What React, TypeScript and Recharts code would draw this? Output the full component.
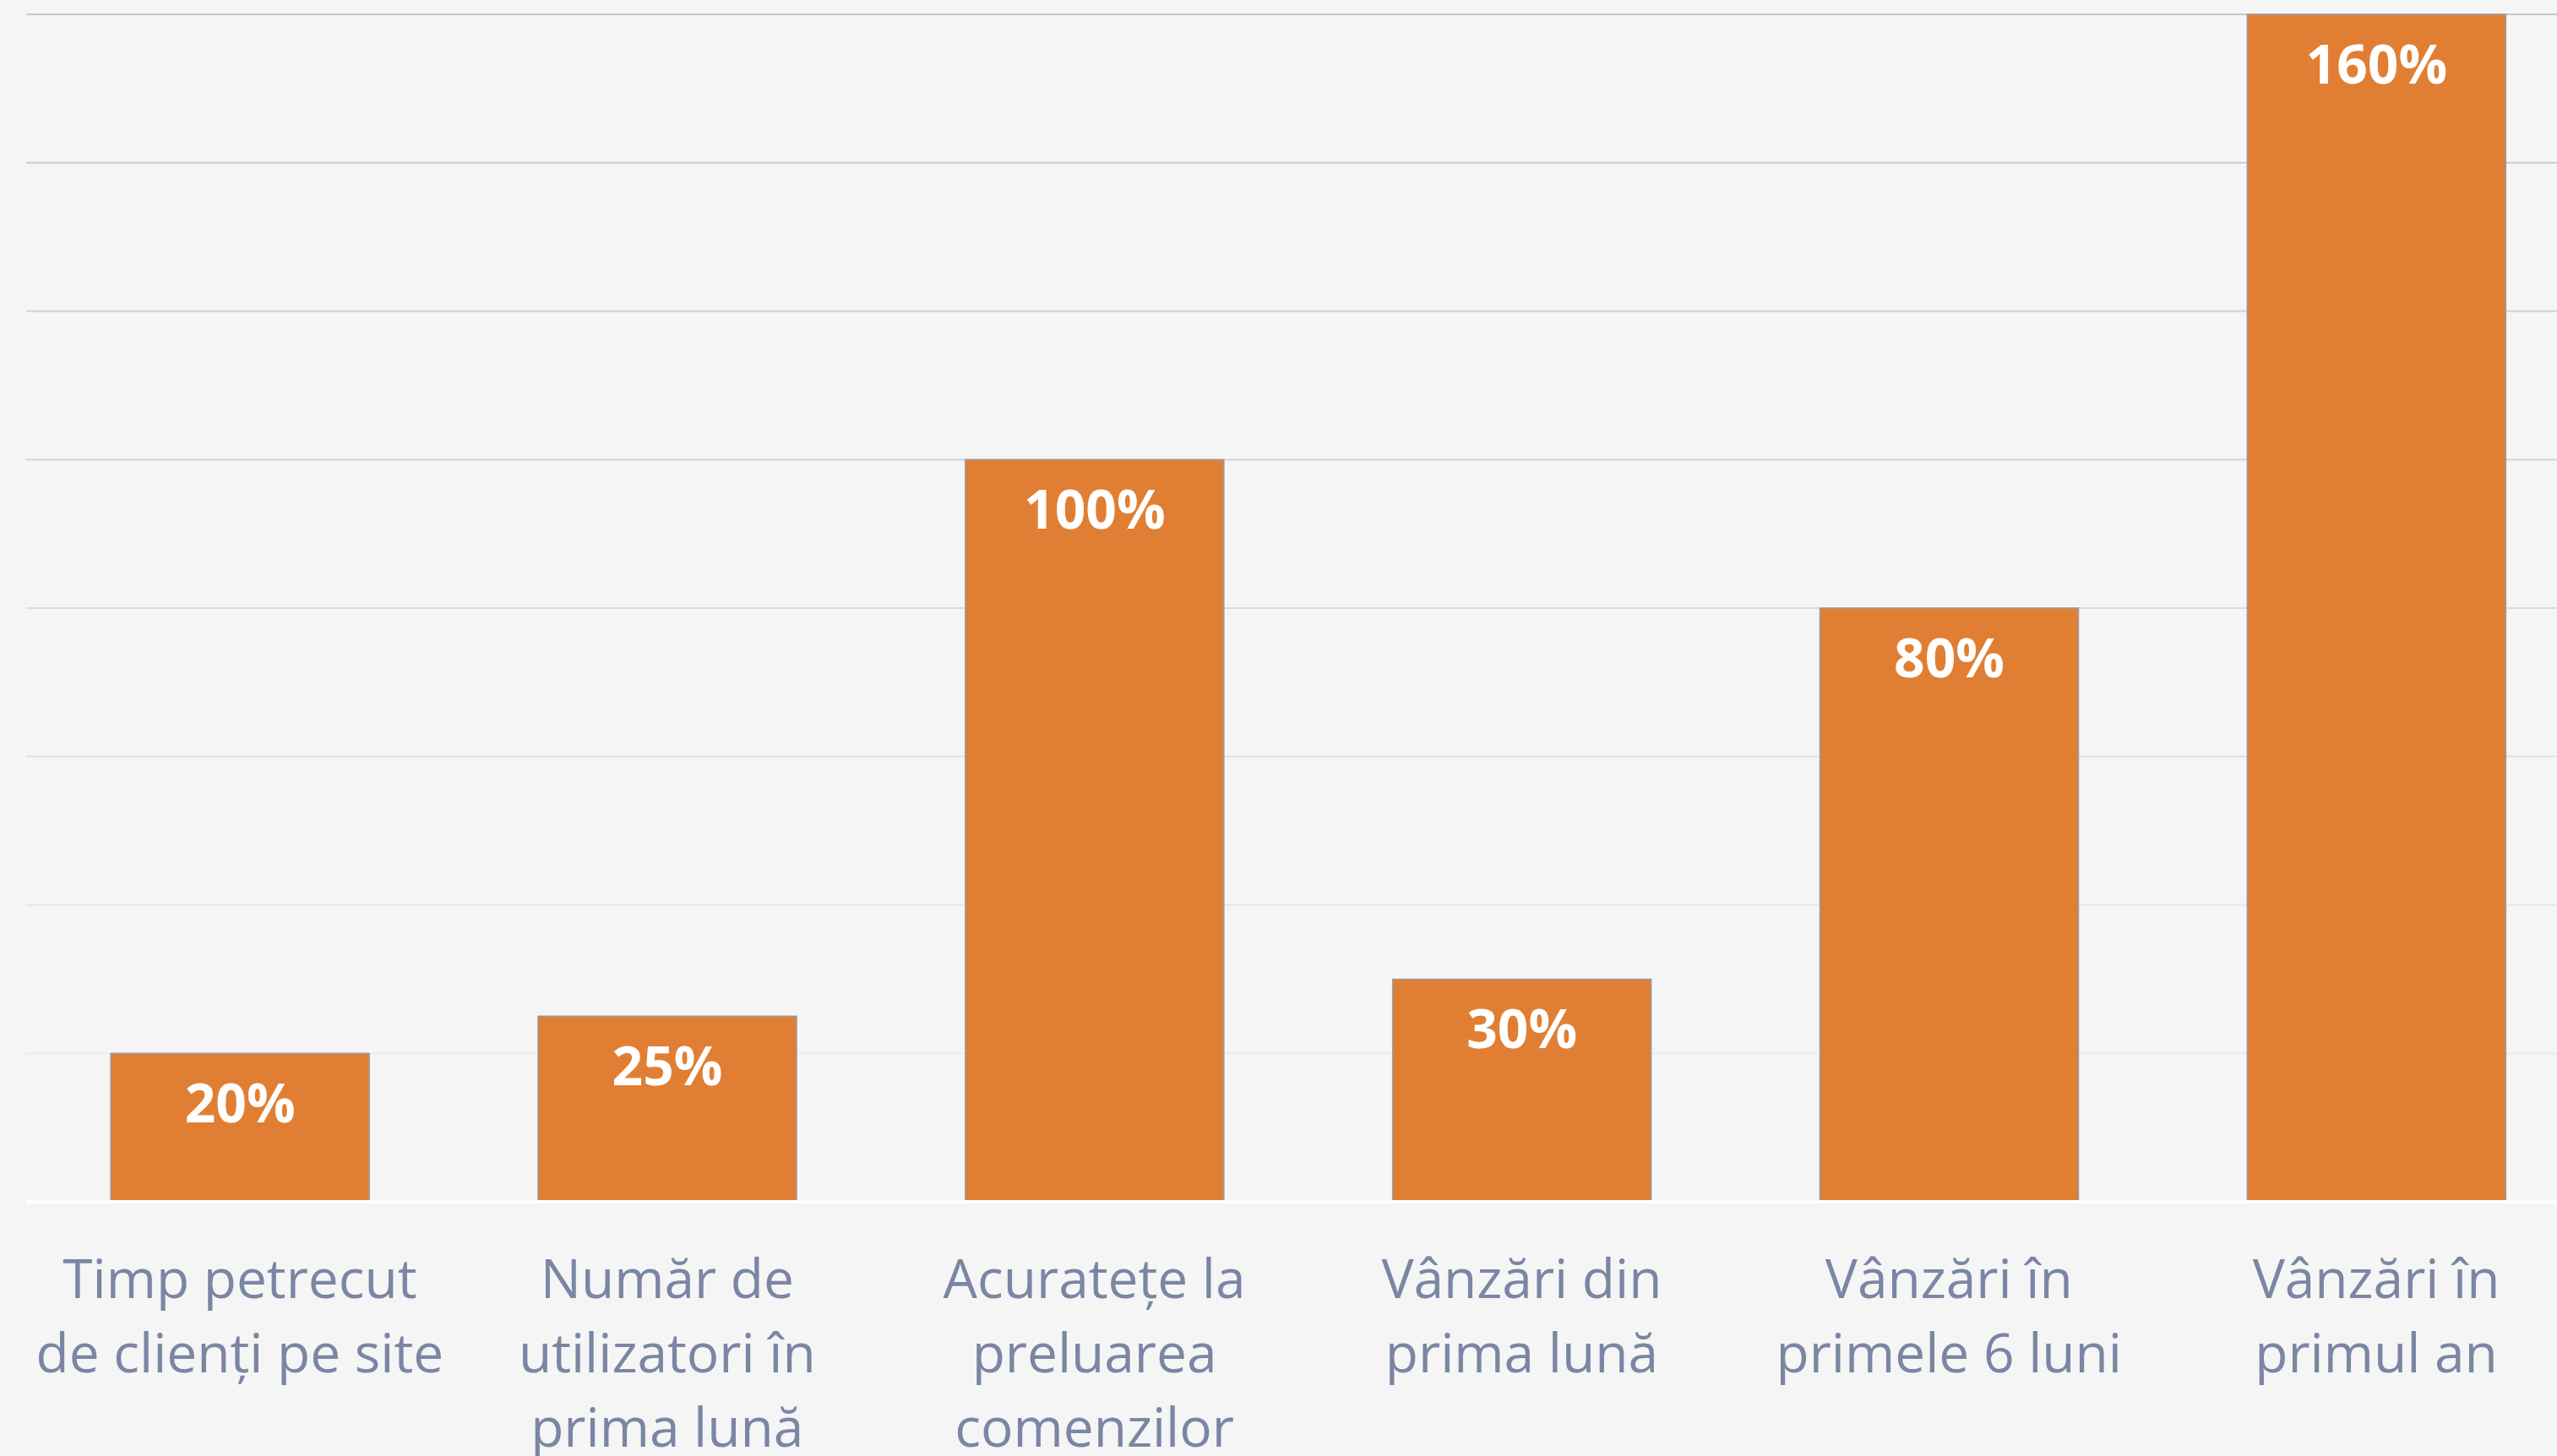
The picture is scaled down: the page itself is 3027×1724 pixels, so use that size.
import { BarChart, Bar, XAxis, YAxis, CartesianGrid, LabelList } from 'recharts';

const categories = [
    'Timp petrecut\nde clienți pe site',
    'Număr de\nutilizatori în\nprima lună',
    'Acuratețe la\npreluarea\ncomenzilor',
    'Vânzări din\nprima lună',
    'Vânzări în\nprimele 6 luni',
    'Vânzări în\nprimul an',
];
const values = [20, 25, 100, 30, 80, 160];
const yTicks = [0, 20, 40, 60, 80, 100, 120, 140, 160];

const data = categories.map((name, i) => ({ name, value: values[i] }));

const FONT = '"Open Sans", "Noto Sans", sans-serif';
const LABEL_COLOR = '#7b86a4';

const CategoryTick = (props: any) => {
    const { x, y, payload } = props;
    const lines = String(payload.value).split('\n');
    return (
        <text x={x} y={y} textAnchor="middle" fill={LABEL_COLOR} fontFamily={FONT} fontSize={64}>
            {lines.map((line, i) => (
                <tspan key={i} x={x} y={y + 114 + i * 88}>
                    {line}
                </tspan>
            ))}
        </text>
    );
};

const ValueLabel = (props: any) => {
    const { x, y, width, value } = props;
    return (
        <text
            x={x + width / 2}
            y={y + 82}
            textAnchor="middle"
            fill="#ffffff"
            fontFamily={FONT}
            fontWeight={700}
            fontSize={64}
        >
            {value}%
        </text>
    );
};

export default function App() {
    return (
        <div
            style={{
                position: 'absolute',
                left: 0,
                top: 0,
                width: 3027,
                height: 1724,
                overflow: 'hidden',
                background: '#f5f5f5',
            }}
        >
            <BarChart
                width={3066}
                height={1724}
                data={data}
                margin={{ left: 31, right: 0, top: 17, bottom: 0 }}
                barCategoryGap="19.8%"
            >
                <defs>
                    <linearGradient id="gridFade" gradientUnits="userSpaceOnUse" x1="0" y1="17" x2="0" y2="1423">
                        <stop offset="0%" stopColor="#c6c6cc" />
                        <stop offset="100%" stopColor="#f0f0f0" />
                    </linearGradient>
                </defs>
                <CartesianGrid stroke="url(#gridFade)" strokeWidth={2} vertical={false} />
                <YAxis hide domain={[0, 160]} ticks={yTicks} />
                <XAxis
                    dataKey="name"
                    height={301}
                    axisLine={{ stroke: '#ffffff', strokeWidth: 4 }}
                    tickLine={false}
                    tickSize={0}
                    tickMargin={0}
                    interval={0}
                    tick={<CategoryTick />}
                />
                <Bar
                    dataKey="value"
                    fill="#e07f33"
                    stroke="#9a9aa2"
                    strokeWidth={1.5}
                    isAnimationActive={false}
                >
                    <LabelList dataKey="value" content={<ValueLabel />} />
                </Bar>
            </BarChart>
        </div>
    );
}
